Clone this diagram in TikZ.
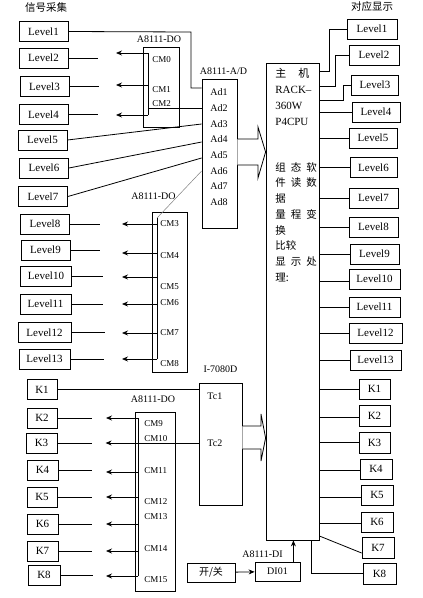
\documentclass[tikz,border=0pt]{standalone}
\usepackage{fontspec}
\setmainfont{Liberation Serif}
\newfontfamily\cjk{Noto Sans CJK SC}
\usetikzlibrary{arrows.meta,positioning,calc}
\tikzset{
  lvl/.style={draw, minimum width=49pt, minimum height=20pt, inner sep=0pt,
              font=\fontsize{11}{13}\selectfont},
  kbx/.style={draw, minimum width=31pt, minimum height=20pt, inner sep=0pt,
              font=\fontsize{11}{13}\selectfont},
  card/.style={draw, inner sep=0pt},
  ttl/.style={font=\fontsize{10}{12}\selectfont, inner sep=0pt},
  cmlbl/.style={anchor=west, font=\fontsize{9}{10}\selectfont, inner sep=0pt},
  zh/.style={font=\cjk\fontsize{10.5}{12}\selectfont, inner sep=0pt},
  ar/.style={-{Stealth[length=6pt,width=5pt]}},
  fat/.style={line width=0.8pt, line join=miter},
}

\begin{document}
\begin{tikzpicture}[x=1pt, y=-1pt, line width=0.8pt]
\useasboundingbox[fill=white] (0,0) rectangle (423,598);

% headings
\node[zh] (hin) at (46,8) {信号采集};
\node[zh] (hout) at (372,7) {对应显示};

% level inputs
\node[lvl] (L1) at (43.5,31.5) {Level1};
\node[lvl] (L2) at (43.5,58) {Level2};
\node[lvl] (L3) at (44.5,86.5) {Level3};
\node[lvl] (L4) at (43.5,114.5) {Level4};
\node[lvl] (L5) at (42.5,140) {Level5};
\node[lvl] (L6) at (44,168) {Level6};
\node[lvl] (L7) at (43,196.5) {Level7};
\node[lvl] (L8) at (45,224) {Level8};
\node[lvl] (L9) at (45.5,250) {Level9};
\node[lvl, minimum width=51pt] (L10) at (46,276) {Level10};
\node[lvl, minimum width=51pt] (L11) at (45.5,304) {Level11};
\node[lvl, minimum width=53pt] (L12) at (44.5,332.5) {Level12};
\node[lvl, minimum width=51pt] (L13) at (44.5,359) {Level13};

% first DO card
\node[card, minimum width=36pt, minimum height=80pt] (do1) at (161,87) {};
\node[ttl, above=4pt of do1, xshift=-2pt] (do1cap) {A8111-DO};
\node[cmlbl] (cm0) at (152,60) {CM0};
\node[cmlbl] (cm1) at (152,90) {CM1};
\node[cmlbl] (cm2) at (152,104) {CM2};
\coordinate (do1a) at (148,53);
\coordinate (do1b) at (148,115);

% A/D card
\node[card, minimum width=35pt, minimum height=149pt] (adbox) at (219.5,153.5) {};
\node[ttl, above=4pt of adbox, xshift=4pt] (adcap) {A8111-A/D};
\node[ttl, anchor=west] (ad1) at (210,92) {Ad1};
\node[ttl, anchor=west] (ad2) at (210,108) {Ad2};
\node[ttl, anchor=west] (ad3) at (210,124) {Ad3};
\node[ttl, anchor=west] (ad4) at (210,139) {Ad4};
\node[ttl, anchor=west] (ad5) at (210,155) {Ad5};
\node[ttl, anchor=west] (ad6) at (210,171) {Ad6};
\node[ttl, anchor=west] (ad7) at (210,186) {Ad7};
\node[ttl, anchor=west] (ad8) at (210,202) {Ad8};

% second DO card
\node[card, minimum width=35pt, minimum height=160pt] (do2) at (169.5,292) {};
\node[ttl, above=12pt of do2, xshift=-16pt] (do2cap) {A8111-DO};
\node[cmlbl] (cm3) at (160,224) {CM3};
\node[cmlbl] (cm4) at (160,256) {CM4};
\node[cmlbl] (cm5) at (160,287) {CM5};
\node[cmlbl] (cm6) at (160,303) {CM6};
\node[cmlbl] (cm7) at (160,333) {CM7};
\node[cmlbl] (cm8) at (160,364) {CM8};
\coordinate (do2a) at (157,218);
\coordinate (do2b) at (157,359);

% host
\node[card, minimum width=53pt, minimum height=477pt] (cpu) at (292.5,301.5) {};
\node[anchor=north west, align=left, inner sep=0pt, font=\fontsize{11}{16}\selectfont]
  (cpuhead) at (275,68) {{\cjk 主}\hspace{12pt}{\cjk 机}\\RACK--\\360W\\P4CPU};
\node[anchor=north west, align=left, inner sep=0pt, font=\cjk\fontsize{10.5}{15.7}\selectfont]
  (cpujob) at (275,162) {组\hspace{5pt}态\hspace{5pt}软\\件\hspace{5pt}读\hspace{5pt}数\\据\\
  量\hspace{5pt}程\hspace{5pt}变\\换\\比较\\显\hspace{5pt}示\hspace{5pt}处\\理:};

% display side
\node[lvl, minimum width=50pt] (D1) at (372,29) {Level1};
\node[lvl, minimum width=50pt] (D2) at (374,55) {Level2};
\node[lvl, minimum width=47pt] (D3) at (375,85) {Level3};
\node[lvl, minimum width=48pt] (D4) at (376,112) {Level4};
\node[lvl, minimum width=48pt] (D5) at (373,138) {Level5};
\node[lvl, minimum width=47pt] (D6) at (373.5,167.5) {Level6};
\node[lvl] (D7) at (373.5,198) {Level7};
\node[lvl] (D8) at (373.5,227) {Level8};
\node[lvl] (D9) at (374.5,254) {Level9};
\node[lvl, minimum width=51pt] (D10) at (374.5,279) {Level10};
\node[lvl, minimum width=51pt] (D11) at (374.5,307) {Level11};
\node[lvl, minimum width=53pt] (D12) at (375.5,333) {Level12};
\node[lvl, minimum width=51pt] (D13) at (375.5,360) {Level13};

\node[kbx] (RK1) at (374.5,389) {K1};
\node[kbx, minimum height=21pt] (RK2) at (374.5,415.5) {K2};
\node[kbx, minimum height=21pt] (RK3) at (374.5,442.5) {K3};
\node[kbx, minimum width=32pt] (RK4) at (376,469) {K4};
\node[kbx, minimum width=32pt] (RK5) at (377,495) {K5};
\node[kbx, minimum width=32pt] (RK6) at (377,522) {K6};
\node[kbx, minimum width=32pt, minimum height=21pt] (RK7) at (378,547.5) {K7};
\node[kbx, minimum width=33pt, minimum height=21pt] (RK8) at (379.5,573.5) {K8};

% switch inputs
\node[kbx, minimum width=30pt] (LK1) at (42,389.5) {K1};
\node[kbx, minimum width=30pt] (LK2) at (42,418) {K2};
\node[kbx] (LK3) at (41.5,443) {K3};
\node[kbx] (LK4) at (42.5,470) {K4};
\node[kbx, minimum width=30pt] (LK5) at (42,497) {K5};
\node[kbx] (LK6) at (42.5,524) {K6};
\node[kbx] (LK7) at (42.5,551) {K7};
\node[kbx, minimum width=32pt] (LK8) at (44,575) {K8};

% third DO card
\node[card, minimum width=40pt, minimum height=179pt] (do3) at (155,501.5) {};
\node[ttl, above=9pt of do3, xshift=-2pt] (do3cap) {A8111-DO};
\node[cmlbl] (cm9) at (144,424) {CM9};
\node[cmlbl] (cm10) at (144,439) {CM10};
\node[cmlbl] (cm11) at (144,471) {CM11};
\node[cmlbl] (cm12) at (144,502) {CM12};
\node[cmlbl] (cm13) at (144,517) {CM13};
\node[cmlbl] (cm14) at (144,549) {CM14};
\node[cmlbl] (cm15) at (144,580) {CM15};
\coordinate (do3a) at (138,418);
\coordinate (do3b) at (138,576);

% counter card
\node[card, minimum width=43pt, minimum height=122pt] (tc) at (220.5,444) {};
\node[ttl, above=10pt of tc] (tccap) {I-7080D};
\node[ttl, anchor=west] (tc1) at (207,396) {Tc1};
\node[ttl, anchor=west] (tc2) at (207,443) {Tc2};

% digital input
\node[card, minimum width=48pt, minimum height=19pt, font=\cjk\fontsize{10}{12}\selectfont] (sw) at (211,572.5) {开/关};
\node[card, minimum width=45pt, minimum height=19pt, font=\fontsize{10}{12}\selectfont] (di) at (277.5,571.5) {DI01};
\node[ttl, above=4pt of di, xshift=-15pt] (dicap) {A8111-DI};

% --- wiring, input side
\coordinate (l1bend) at (191,32);
\draw (L1.east) -- (l1bend) |- (adbox.west |- 0,88);
\draw (L2.east) -- ++(30,0);
\draw (L3.east) -- ++(30,0);
\draw (L4.east) -- ++(30,0);
\draw (do1a) -- (do1b);
\draw[ar] (do1a) -- ++(-32,0);
\draw[ar] (do1a |- 0,85) -- ++(-32,0);
\draw[ar] (do1b) -- ++(-32,0);
\draw (do1a |- 0,108) -- (adbox.west |- ad2);
\draw (L5.east) -- (adbox.west |- ad3);
\draw (L6.east) -- (adbox.west |- 0,142);
\draw (L7.east) -- (adbox.west |- 0,158);
\draw[gray, line width=0.5pt] (do2a) -- (adbox.west |- ad6);

\draw (do2a) -- (do2b);
\draw (L8.east) -- ++(30,0);
\draw (L9.east) -- ++(30,0);
\draw (L10.east) -- ++(31,0);
\draw (L11.east) -- ++(32,0);
\draw (L12.east) -- ++(34,0);
\draw (L13.east) -- ++(34,0);
\draw[ar] (do2a |- L8) -- ++(-35,0);
\draw[ar] (do2a |- 0,253) -- ++(-35,0);
\draw[ar] (do2a |- 0,277) -- ++(-35,0);
\draw[ar] (do2a |- L11) -- ++(-35,0);
\draw[ar] (do2a |- 0,333) -- ++(-35,0);
\draw[ar] (do2b) -- ++(-35,0);

\draw (LK1) -- (tc.west |- LK1);
\draw (LK2.east) -- ++(35,0);
\draw (LK3.east) -- ++(35,0);
\draw (LK4.east) -- ++(34,0);
\draw (LK5.east) -- ++(35,0);
\draw (LK6.east) -- ++(34,0);
\draw (LK7.east) -- ++(34,0);
\draw (LK8.east) -- ++(33,0);
\draw (do3a) -- (do3b);
\draw[ar] (do3a) -- ++(-32,0);
\draw[ar] (tc.west |- tc2) -- ++(-93,0);
\draw[ar] (do3a |- 0,472) -- ++(-32,0);
\draw[ar] (do3a |- LK5) -- ++(-32,0);
\draw[ar] (do3a |- LK6) -- ++(-32,0);
\draw[ar] (do3a |- LK7) -- ++(-32,0);
\draw[ar] (do3b) -- ++(-32,0);

% block arrows into the host
\draw[fat, fill=white] (adbox.east |- 0,139) -- (258,139) -- (258,127) -- (cpu.west |- 0,152)
  -- (258,178) -- (258,165) -- (adbox.east |- 0,165);
\draw[fat, fill=white] (tc.east |- 0,426) -- (261,426) -- (261,414) -- (cpu.west |- 0,438)
  -- (261,461) -- (261,449) -- (tc.east |- 0,449);

\draw[ar] (sw) -- (di);
\draw[ar] ([xshift=-7pt]di.north east) -- ([xshift=-7pt]di.north east |- cpu.south);

% --- wiring, display side
\draw (cpu.east |- 0,71) -- ++(10,0) |- (D1);
\draw (cpu.east |- 0,86) -- ++(16,0) |- (D2);
\draw (cpu.east |- 0,100) -- ++(24,0) |- (D3);
\draw (cpu.east |- D4) -- (D4);
\draw (cpu.east |- D5) -- (D5);
\draw (cpu.east |- D6) -- (D6);
\draw (cpu.east |- D7) -- (D7);
\draw (cpu.east |- D8) -- (D8);
\draw (cpu.east |- D9) -- (D9);
\draw (cpu.east |- 0,281) -- (D10.west |- 0,281);
\draw (cpu.east |- D11) -- (D11);
\draw (cpu.east |- D12) -- (D12);
\draw (cpu.east |- D13) -- (D13);

\draw (cpu.east |- RK1) -- (RK1);
\draw (cpu.east |- 0,417) -- (RK2.west |- 0,417);
\draw (cpu.east |- RK3) -- (RK3);
\draw (cpu.east |- 0,470) -- (RK4.west |- 0,470);
\draw (cpu.east |- 0,497) -- (RK5.west |- 0,497);
\draw (cpu.east |- 0,523) -- (RK6.west |- 0,523);
\draw (cpu.south east |- 0,536) -- (RK7.west |- 0,553);
\draw (cpu.south -| 311,0) |- (RK8);
\end{tikzpicture}
\end{document}
